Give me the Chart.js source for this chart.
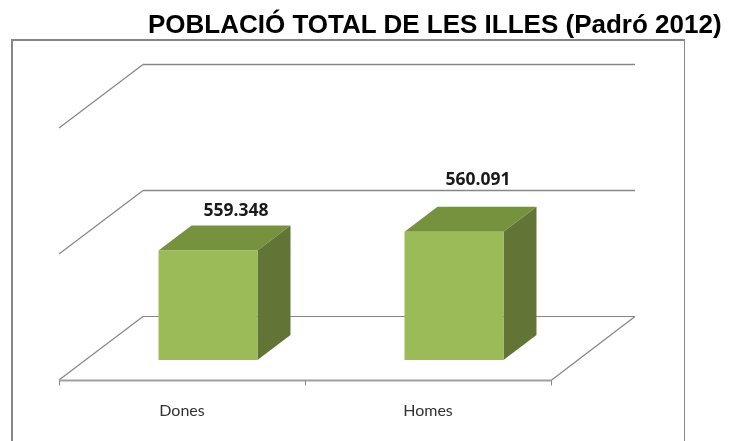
<!DOCTYPE html>
<html>
<head>
<meta charset="utf-8">
<title>Població total de les Illes</title>
<script src="https://cdn.jsdelivr.net/npm/chart.js@4"></script>
<style>
    html, body { margin: 0; padding: 0; background: #fff; overflow: hidden; }
    #wrap { position: relative; width: 741px; height: 441px; }
    #chartTitle {
        position: absolute; left: 148px; top: 9px; white-space: nowrap;
        font: bold 26px "Liberation Sans", Arial, sans-serif; color: #000;
    }
    canvas { position: absolute; left: 0; top: 0; }
</style>
</head>
<body>
<div id="wrap">
    <canvas id="chart" width="741" height="441"></canvas>
    <div id="chartTitle">POBLACIÓ TOTAL DE LES ILLES (Padró 2012)</div>
</div>
<script>
const titleText = 'POBLACIÓ TOTAL DE LES ILLES (Padró 2012)';
const categories = ['Dones', 'Homes'];
const population = [559348, 560091];
const axisMin = 555000;
const axisMax = 565000;
const axisStep = 5000;

const formatValue = v => String(v).replace(/\B(?=(\d{3})+(?!\d))/g, '.');

// the 3d look: floor/walls are offset from the plane the bars stand in
const frontShift = { x: -26, y: 20 };
const backShift = { x: 58, y: -44 };
const barDepth = { x: 33, y: -25 };
const labelShift = [{ x: 28, y: 39 }, { x: 24, y: 52 }]; // labels were moved by hand in the original

const GREY = '#868686';

function line(ctx, x1, y1, x2, y2, width) {
    ctx.lineWidth = width || 1;
    ctx.beginPath();
    ctx.moveTo(x1, y1);
    ctx.lineTo(x2, y2);
    ctx.stroke();
}

function poly(ctx, pts, color) {
    ctx.fillStyle = color;
    ctx.beginPath();
    pts.forEach((p, i) => i ? ctx.lineTo(p[0], p[1]) : ctx.moveTo(p[0], p[1]));
    ctx.closePath();
    ctx.fill();
}

const box3d = {
    id: 'box3d',
    beforeDatasetsDraw(chart) {
        const { ctx, scales: { x, y } } = chart;
        const left = x.left, right = x.right;
        const base = y.getPixelForValue(axisMin);
        ctx.save();
        ctx.strokeStyle = GREY;

        // outer frame, runs off the bottom of the picture
        line(ctx, 12, 441, 12, 40, 2);
        line(ctx, 11, 40, 685, 40, 2);
        line(ctx, 684.5, 40, 684.5, 441, 1);

        y.ticks.forEach(t => {
            const py = y.getPixelForValue(t.value);
            const w = t.value === axisMin ? 1 : 1.5;
            line(ctx, left + backShift.x, py + backShift.y + 0.5, right + backShift.x, py + backShift.y + 0.5, w);
            line(ctx, left + frontShift.x, py + frontShift.y, left + backShift.x, py + backShift.y + 0.5, 1.2);
        });

        // floor
        const floorY = base + frontShift.y + 0.5;
        ctx.strokeStyle = '#a0a0a0';
        line(ctx, left + frontShift.x, floorY, right + frontShift.x, floorY, 2);
        ctx.strokeStyle = GREY;
        line(ctx, right + frontShift.x, floorY, right + backShift.x, base + backShift.y + 0.5, 1.2);
        const step = (right - left) / categories.length;
        for (let i = 0; i <= categories.length; i++) {
            const tx = Math.round(left + frontShift.x + i * step) + 0.5;
            line(ctx, tx, floorY, tx, floorY + 5);
        }

        // sides and tops of the bars
        chart.getDatasetMeta(0).data.forEach(bar => {
            const l = bar.x - bar.width / 2;
            const r = bar.x + bar.width / 2;
            poly(ctx, [[l, bar.y], [r, bar.y], [r + barDepth.x, bar.y + barDepth.y], [l + barDepth.x, bar.y + barDepth.y]], '#77923F');
            poly(ctx, [[r, bar.y], [r + barDepth.x, bar.y + barDepth.y], [r + barDepth.x, base + barDepth.y], [r, base]], '#637536');
        });
        ctx.restore();
    },
    afterDatasetsDraw(chart) {
        const { ctx } = chart;
        ctx.save();
        ctx.fillStyle = '#1a1a1a';
        ctx.font = 'bold 17.5px "Open Sans"';
        ctx.textAlign = 'center';
        ctx.textBaseline = 'middle';
        chart.getDatasetMeta(0).data.forEach((bar, i) => {
            ctx.fillText(formatValue(population[i]), bar.x + labelShift[i].x, bar.y - labelShift[i].y);
        });
        ctx.restore();
    }
};

new Chart(document.getElementById('chart').getContext('2d'), {
    type: 'bar',
    data: {
        labels: categories,
        datasets: [{
            label: titleText,
            data: population,
            backgroundColor: '#9BBB59',
            barPercentage: 0.4024,
            categoryPercentage: 1
        }]
    },
    options: {
        responsive: false,
        animation: false,
        layout: { padding: { left: 85, right: 164, top: 108, bottom: 0 } },
        plugins: {
            legend: { display: false },
            title: { display: false },
            tooltip: { enabled: false }
        },
        scales: {
            x: {
                grid: { display: false },
                border: { display: false },
                ticks: {
                    color: '#333',
                    font: { family: 'Lato', size: 16 },
                    padding: 33,
                    labelOffset: frontShift.x,
                    maxRotation: 0
                },
                afterFit: scale => { scale.height = 81; }
            },
            y: {
                display: true,
                min: axisMin,
                max: axisMax,
                grid: { display: false },
                border: { display: false },
                ticks: { stepSize: axisStep, display: false },
                afterFit: scale => { scale.width = 0; }
            }
        }
    },
    plugins: [box3d]
});
</script>
</body>
</html>
